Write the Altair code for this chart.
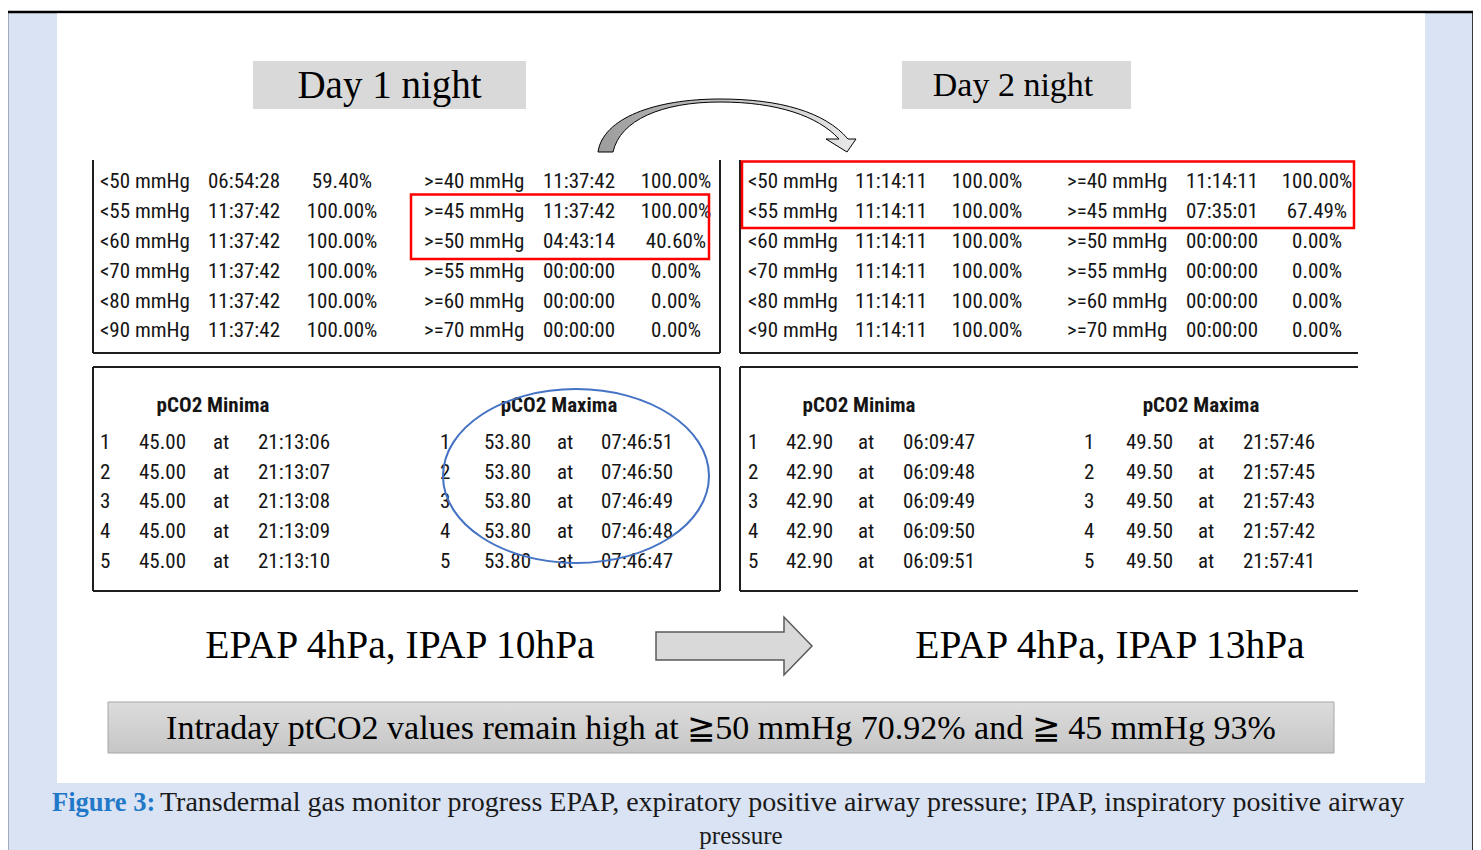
import altair as alt
import pandas as pd

# ---------------- content ----------------
lt_labels = ["<50 mmHg", "<55 mmHg", "<60 mmHg", "<70 mmHg", "<80 mmHg", "<90 mmHg"]
ge_labels = [">=40 mmHg", ">=45 mmHg", ">=50 mmHg", ">=55 mmHg", ">=60 mmHg", ">=70 mmHg"]

day1_lt_times = ["06:54:28", "11:37:42", "11:37:42", "11:37:42", "11:37:42", "11:37:42"]
day1_lt_pcts = ["59.40%", "100.00%", "100.00%", "100.00%", "100.00%", "100.00%"]
day1_ge_times = ["11:37:42", "11:37:42", "04:43:14", "00:00:00", "00:00:00", "00:00:00"]
day1_ge_pcts = ["100.00%", "100.00%", "40.60%", "0.00%", "0.00%", "0.00%"]

day2_lt_times = ["11:14:11", "11:14:11", "11:14:11", "11:14:11", "11:14:11", "11:14:11"]
day2_lt_pcts = ["100.00%", "100.00%", "100.00%", "100.00%", "100.00%", "100.00%"]
day2_ge_times = ["11:14:11", "07:35:01", "00:00:00", "00:00:00", "00:00:00", "00:00:00"]
day2_ge_pcts = ["100.00%", "67.49%", "0.00%", "0.00%", "0.00%", "0.00%"]

ranks = ["1", "2", "3", "4", "5"]
day1_min_vals = ["45.00", "45.00", "45.00", "45.00", "45.00"]
day1_min_times = ["21:13:06", "21:13:07", "21:13:08", "21:13:09", "21:13:10"]
day1_max_vals = ["53.80", "53.80", "53.80", "53.80", "53.80"]
day1_max_times = ["07:46:51", "07:46:50", "07:46:49", "07:46:48", "07:46:47"]
day2_min_vals = ["42.90", "42.90", "42.90", "42.90", "42.90"]
day2_min_times = ["06:09:47", "06:09:48", "06:09:49", "06:09:50", "06:09:51"]
day2_max_vals = ["49.50", "49.50", "49.50", "49.50", "49.50"]
day2_max_times = ["21:57:46", "21:57:45", "21:57:43", "21:57:42", "21:57:41"]

titles = ["Day 1 night", "Day 2 night"]
settings = ["EPAP 4hPa, IPAP 10hPa", "EPAP 4hPa, IPAP 13hPa"]
summary = "Intraday ptCO2 values remain high at \u226750 mmHg 70.92% and \u2267 45 mmHg 93%"
caption_lead = "Figure 3:"
caption_line1 = "Transdermal gas monitor progress EPAP, expiratory positive airway pressure; IPAP, inspiratory positive airway"
caption_line2 = "pressure"

# ---------------- layout (page pixels) ----------------
X0, Y0 = 8, 8
W, H = 1465, 842
xs = alt.Scale(domain=[X0, X0 + W], range=[0, W], zero=False, nice=False)
ys = alt.Scale(domain=[Y0, Y0 + H], range=[0, H], zero=False, nice=False)

NARROW = "Liberation Sans Narrow, Arial Narrow, Roboto Condensed, sans-serif"
SERIF = "Liberation Serif, Times New Roman, DejaVu Serif, serif"
TXT = "#151515"
FS = 21


def xy():
    return dict(x=alt.X("x:Q", scale=xs, axis=None), y=alt.Y("y:Q", scale=ys, axis=None))


def rect_layer(rows, **mark):
    df = pd.DataFrame(rows, columns=["x", "x2", "y", "y2"])
    return alt.Chart(df).mark_rect(**mark).encode(
        x=alt.X("x:Q", scale=xs, axis=None), x2="x2:Q",
        y=alt.Y("y:Q", scale=ys, axis=None), y2="y2:Q")


def rule_layer(rows, **mark):
    df = pd.DataFrame(rows, columns=["x", "x2", "y", "y2"])
    return alt.Chart(df).mark_rule(**mark).encode(
        x=alt.X("x:Q", scale=xs, axis=None), x2="x2:Q",
        y=alt.Y("y:Q", scale=ys, axis=None), y2="y2:Q")


def text_layer(rows, align="left", font=NARROW, weight="normal"):
    df = pd.DataFrame(rows, columns=["x", "y", "text", "size", "color"])
    return alt.Chart(df).mark_text(align=align, baseline="middle", font=font,
                                   fontWeight=weight).encode(
        **xy(), text="text:N",
        size=alt.Size("size:Q", scale=None),
        color=alt.Color("color:N", scale=None))


def shape_path(points_cmds, cx, cy, s):
    """convert a path given in page pixels to the unit square used by custom symbols"""
    out = []
    for c in points_cmds:
        if isinstance(c, str):
            out.append(c)
        else:
            out.append("%.4f %.4f" % ((c[0] - cx) / s, (c[1] - cy) / s))
    return " ".join(out)


def symbol_layer(cx, cy, shape, size, **mark):
    df = pd.DataFrame({"x": [cx], "y": [cy]})
    return alt.Chart(df).mark_point(shape=shape, size=size, opacity=1, **mark).encode(**xy())


# --- page background and panel
bg = rect_layer([[7, 1473.5, 12, 900]], fill="#dae3f3", stroke="#000000", strokeWidth=2.5)
panel = rect_layer([[57, 1425, 13.5, 783]], fill="#ffffff")

# --- title boxes
tbox = rect_layer([[253, 526, 61, 109], [902, 1131, 61, 109]], fill="#d9d9d9")
ttext = text_layer([[389.5, 86, titles[0], 39, "#000000"],
                    [1013, 86, titles[1], 34, "#000000"]], align="center", font=SERIF)

# --- table frames
frames = rule_layer([
    [93, 93, 160, 353], [93, 720, 353, 353], [720, 720, 160, 353],
    [740, 740, 160, 353], [740, 1358, 353, 353],
    [93, 720, 367, 367], [93, 93, 367, 591], [720, 720, 367, 591], [93, 720, 591, 591],
    [740, 1358, 367, 367], [740, 740, 367, 591], [740, 1358, 591, 591],
], color="#1e1e1e", strokeWidth=2)

# --- top tables
row_y_top = [182, 212, 242, 272, 302, 331]
left_rows, center_rows = [], []
top_tables = [
    (100, 208, 342, 424, 543, 676, day1_lt_times, day1_lt_pcts, day1_ge_times, day1_ge_pcts),
    (748, 855, 987, 1067, 1186, 1317, day2_lt_times, day2_lt_pcts, day2_ge_times, day2_ge_pcts),
]
for (c1, c2, c3, c4, c5, c6, lt_t, lt_p, ge_t, ge_p) in top_tables:
    for i, yv in enumerate(row_y_top):
        left_rows.append([c1, yv, lt_labels[i], FS, TXT])
        left_rows.append([c2, yv, lt_t[i], FS, TXT])
        center_rows.append([c3, yv, lt_p[i], FS, TXT])
        left_rows.append([c4, yv, ge_labels[i], FS, TXT])
        left_rows.append([c5, yv, ge_t[i], FS, TXT])
        center_rows.append([c6, yv, ge_p[i], FS, TXT])

# --- bottom tables
row_y_bot = [443, 473, 502, 532, 562]
head_rows = []
bottom_tables = [
    (213, 100, 139, 213, 258, "pCO2 Minima", day1_min_vals, day1_min_times),
    (559, 440, 484, 557, 601, "pCO2 Maxima", day1_max_vals, day1_max_times),
    (859, 748, 786, 858, 903, "pCO2 Minima", day2_min_vals, day2_min_times),
    (1201, 1084, 1126, 1198, 1243, "pCO2 Maxima", day2_max_vals, day2_max_times),
]
for (hc, ci, cv, ca, ct, head, vals, times) in bottom_tables:
    head_rows.append([hc, 406, head, FS, TXT])
    for i, yv in enumerate(row_y_bot):
        left_rows.append([ci, yv, ranks[i], FS, TXT])
        left_rows.append([cv, yv, vals[i], FS, TXT])
        left_rows.append([ca, yv, "at", FS, TXT])
        left_rows.append([ct, yv, times[i], FS, TXT])

tbl_left = text_layer(left_rows, align="left")
tbl_center = text_layer(center_rows, align="center")
tbl_head = text_layer(head_rows, align="center", weight="bold")

# --- highlights
red = rect_layer([[411, 709, 194.5, 259], [742, 1354, 161.5, 228]],
                 fillOpacity=0, stroke="#ff0000", strokeWidth=2.5)
ell_path = "M -1 0 A 1 0.654 0 1 0 1 0 A 1 0.654 0 1 0 -1 0 Z"
ellipse = symbol_layer(576, 476, ell_path, 266 ** 2, filled=False,
                       stroke="#4472c4", strokeWidth=2)

# --- curved arrow
ccx, ccy, cs = 727, 125, 130
curve_cmds = ["M", (598, 152), "C", (603, 118), (655, 99), (720, 99),
              "C", (780, 99), (825, 112), (848, 139),
              "L", (856, 139), "L", (847, 152), "L", (826, 139), "L", (839, 139),
              "C", (818, 116), (777, 102), (720, 102),
              "C", (662, 102), (620, 120), (613, 152), "Z"]
curve = symbol_layer(ccx, ccy, shape_path(curve_cmds, ccx, ccy, cs), (2 * cs) ** 2,
                     filled=True,
                     fill={"gradient": "linear", "x1": 0, "y1": 0, "x2": 1, "y2": 0,
                           "stops": [{"offset": 0, "color": "#9c9c9c"},
                                     {"offset": 1, "color": "#e8e8e8"}]},
                     stroke="#000000", strokeWidth=1)

# --- straight arrow
acx, acy, asz = 734, 646, 78
arrow_cmds = ["M", (656, 632), "L", (784, 632), "L", (784, 617), "L", (812, 646),
              "L", (784, 675), "L", (784, 660), "L", (656, 660), "Z"]
arrow = symbol_layer(acx, acy, shape_path(arrow_cmds, acx, acy, asz), (2 * asz) ** 2,
                     filled=True, fill="#d9d9d9", stroke="#595959", strokeWidth=1.5)

set_text = text_layer([[400, 646, settings[0], 39.5, "#000000"],
                       [1110, 646, settings[1], 39.5, "#000000"]], align="center", font=SERIF)

# --- summary box
sbox = rect_layer([[108, 1334, 702, 753]],
                  fill={"gradient": "linear", "x1": 0, "y1": 0, "x2": 0, "y2": 1,
                        "stops": [{"offset": 0, "color": "#dcdcdc"},
                                  {"offset": 1, "color": "#c6c6c6"}]},
                  stroke="#a6a6a6", strokeWidth=1)
stext = text_layer([[721, 729, summary, 34, "#000000"]], align="center", font=SERIF)

# --- caption
cap_lead = text_layer([[52, 803, caption_lead, 26.5, "#1f78c8"]], align="left", font=SERIF, weight="bold")
cap1 = text_layer([[160, 803, caption_line1, 28, "#1a1a1a"]], align="left", font=SERIF)
cap2 = text_layer([[741, 836, caption_line2, 25, "#1a1a1a"]], align="center", font=SERIF)

chart = alt.layer(
    bg, panel, tbox, ttext, frames, tbl_left, tbl_center, tbl_head,
    red, ellipse, curve, arrow, set_text, sbox, stext, cap_lead, cap1, cap2,
).properties(
    width=W, height=H, padding=0, autosize=alt.AutoSizeParams(type="none"),
    background="#ffffff",
).configure_view(stroke=None)

chart.save("out.html", embed_options={"renderer": "svg", "actions": False})
